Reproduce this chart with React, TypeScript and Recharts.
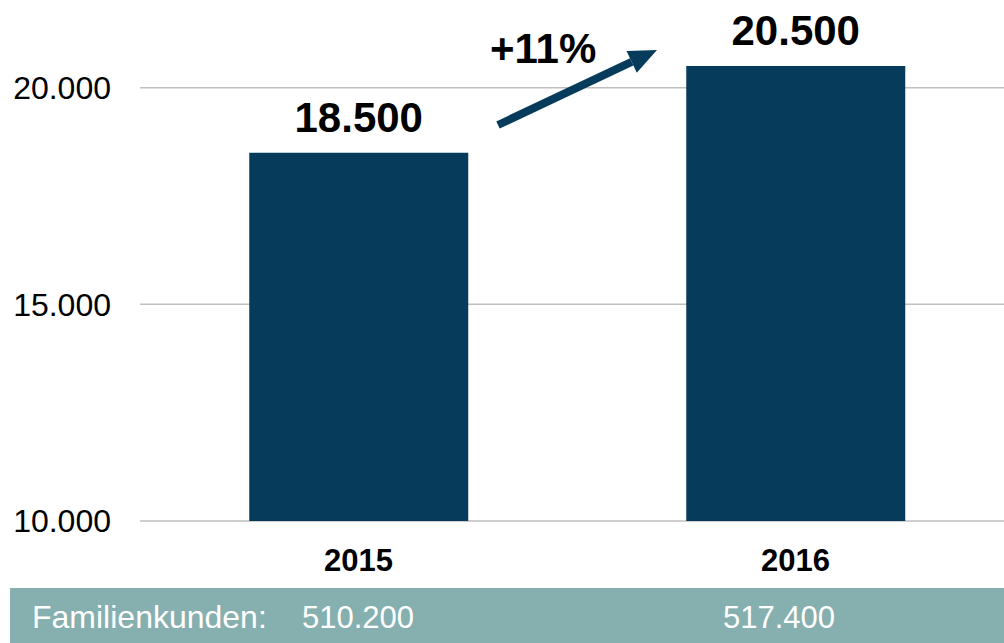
import { BarChart, Bar, XAxis, YAxis, CartesianGrid, LabelList } from "recharts";

const years = ["2015", "2016"];
const kunden = [18500, 20500];
const familienkunden = [510200, 517400];
const yTicks = [10000, 15000, 20000];
const growthLabel = "+11%";

const BLUE = "#073B5C";
const GRID = "#BFBFBF";
const FONT = "'Liberation Sans', Arial, sans-serif";

function fmt(v: number): string {
  return String(v).replace(/\B(?=(\d{3})+(?!\d))/g, ".");
}

const data = years.map((y, i) => ({ year: y, value: kunden[i] }));

function YearTick(props: any) {
  const { x, y, payload } = props;
  return (
    <text x={x} y={y} dy={50} textAnchor="middle" fontSize={31} fontWeight="bold" fill="#000" fontFamily={FONT}>
      {payload.value}
    </text>
  );
}

function ValueLabel(props: any) {
  const { x, y, width, value } = props;
  return (
    <text x={x + width / 2} y={y - 21} textAnchor="middle" fontSize={42} fontWeight="bold" fill="#000" fontFamily={FONT}>
      {fmt(value)}
    </text>
  );
}

// arrow geometry for the growth annotation
const tail = { x: 498, y: 125 };
const tip = { x: 657, y: 50 };
const len = Math.hypot(tip.x - tail.x, tip.y - tail.y);
const ux = (tip.x - tail.x) / len;
const uy = (tip.y - tail.y) / len;
const headLen = 28;
const headHalf = 12;
const bx = tip.x - ux * headLen;
const by = tip.y - uy * headLen;

// x positions of the customer counts in the bottom band
const kundenX = [302, 723];

export default function App() {
  return (
    <div style={{ position: "absolute", left: 0, top: 0, width: 1004, height: 643, overflow: "hidden", background: "#fff" }}>
      <BarChart
        width={1020}
        height={643}
        data={data}
        margin={{ top: 1, right: 6, bottom: 55, left: 0 }}
        barCategoryGap="25%"
      >
        <CartesianGrid
          xAxisId="cat"
          vertical={false}
          horizontalValues={yTicks}
          stroke={GRID}
          strokeWidth={1.5}
        />
        <XAxis
          xAxisId="edges"
          type="number"
          domain={[0, 2]}
          ticks={[0, 1, 2]}
          height={0}
          tick={false}
          tickSize={10}
          axisLine={{ stroke: GRID, strokeWidth: 2 }}
          tickLine={{ stroke: GRID, strokeWidth: 2 }}
          allowDataOverflow
        />
        <XAxis
          xAxisId="cat"
          dataKey="year"
          height={67}
          axisLine={false}
          tickLine={false}
          tickSize={0}
          tickMargin={0}
          tick={<YearTick />}
        />
        <YAxis
          domain={[10000, 22000]}
          ticks={yTicks}
          width={140}
          axisLine={false}
          tickLine={false}
          tickSize={0}
          tickMargin={29}
          tickFormatter={(v) => fmt(v)}
          tick={{ fontSize: 32, fill: "#000", fontFamily: FONT }}
          allowDataOverflow
        />
        <Bar xAxisId="cat" dataKey="value" fill={BLUE} isAnimationActive={false}>
          <LabelList dataKey="value" content={<ValueLabel />} />
        </Bar>
      </BarChart>
      <svg
        width={1004}
        height={643}
        style={{ position: "absolute", left: 0, top: 0, pointerEvents: "none" }}
      >
        <line x1={tail.x} y1={tail.y} x2={bx} y2={by} stroke={BLUE} strokeWidth={8} />
        <polygon
          points={`${tip.x},${tip.y} ${bx - uy * headHalf},${by + ux * headHalf} ${bx + uy * headHalf},${by - ux * headHalf}`}
          fill={BLUE}
        />
        <text x={490} y={63} fontSize={42} fontWeight="bold" fill="#000" fontFamily={FONT}>
          {growthLabel}
        </text>
        <rect x={10} y={588} width={994} height={55} fill="#86AFAF" />
        <text x={32} y={628} fontSize={32} fill="#fff" fontFamily={FONT}>
          Familienkunden:
        </text>
        {familienkunden.map((k, i) => (
          <text key={i} x={kundenX[i]} y={628} fontSize={31} fill="#fff" fontFamily={FONT}>
            {fmt(k)}
          </text>
        ))}
      </svg>
    </div>
  );
}
